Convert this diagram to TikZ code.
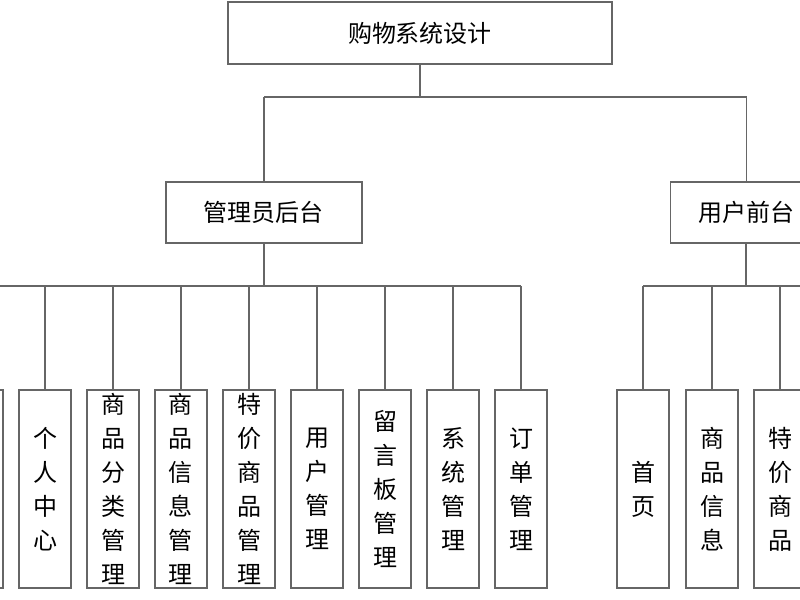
\documentclass[tikz,border=0pt]{standalone}
\usepackage{fontspec}
\setmainfont{Noto Sans CJK SC}
\usetikzlibrary{positioning}

\tikzset{
    box/.style={draw=gray!80!black,line width=0.7pt,fill=white,inner sep=0pt},
    leaf/.style={box,minimum width=26pt,minimum height=99pt,align=center,
        font=\fontsize{12pt}{17pt}\selectfont},
    link/.style={draw=gray!80!black,line width=0.7pt}
}

\begin{document}
\begin{tikzpicture}[x=0.5pt,y=-0.5pt]
        \useasboundingbox (0,0) rectangle (800,600);
        \clip (0,0) rectangle (800,600);
        \node[box,minimum width=192pt,minimum height=31pt,font=\fontsize{12pt}{14pt}\selectfont] (root) at (420,33) {购物系统设计};
        \node[box,minimum width=98pt,minimum height=30.5pt,font=\fontsize{12pt}{14pt}\selectfont] (admin) at (264,212.5) {管理员后台};
        \node[box,minimum width=76pt,minimum height=30.5pt,font=\fontsize{12pt}{14pt}\selectfont,anchor=west] (user) at (670,212.5) {用户前台};
        \coordinate (top) at (420,97);
        \coordinate (abar) at (264,286);
        \coordinate (ubar) at (746,286);

        % admin leaves
        \node[leaf] (a0) at (-23,489) {};
        \node[leaf] (a1) at (45,489) {个\\人\\中\\心};
        \node[leaf] (a2) at (113,489) {商\\品\\分\\类\\管\\理};
        \node[leaf] (a3) at (181,489) {商\\品\\信\\息\\管\\理};
        \node[leaf] (a4) at (249,489) {特\\价\\商\\品\\管\\理};
        \node[leaf] (a5) at (317,489) {用\\户\\管\\理};
        \node[leaf] (a6) at (385,489) {留\\言\\板\\管\\理};
        \node[leaf] (a7) at (453,489) {系\\统\\管\\理};
        \node[leaf] (a8) at (521,489) {订\\单\\管\\理};

        % user leaves
        \node[leaf] (u1) at (643,489) {首\\页};
        \node[leaf] (u2) at (712,489) {商\\品\\信\\息};
        \node[leaf] (u3) at (780,489) {特\\价\\商\\品};

        \path[link] (root) -- (top) (admin.north |- top) -- (user.north |- top);
        \path[link] (admin.north |- top) -- (admin.north) (user.north |- top) -- (user.north);
        \path[link] (admin) -- (abar) (a0.north |- abar) -- (a8.north |- abar);
        \foreach \n in {a0,a1,a2,a3,a4,a5,a6,a7,a8}
            \path[link] (\n.north |- abar) -- (\n.north);
        \path[link] (user.south -| ubar) -- (ubar) (u1.north |- ubar) -- (820,286);
        \foreach \n in {u1,u2,u3}
            \path[link] (\n.north |- ubar) -- (\n.north);
    \end{tikzpicture}
\end{document}
